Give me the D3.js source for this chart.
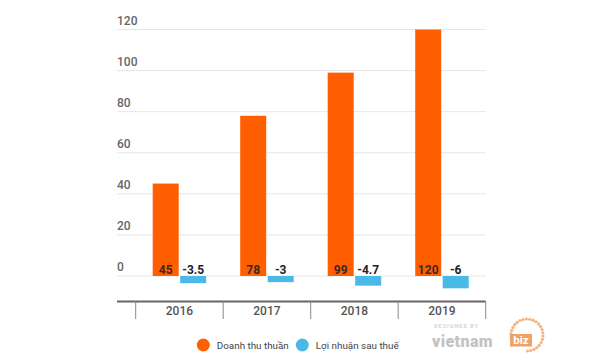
<!DOCTYPE html>
<html>
<head>
<meta charset="utf-8">
<script src="https://cdn.jsdelivr.net/npm/d3@7"></script>
<style>
  body { margin: 0; background: #fff; }
  text { font-family: Roboto, "Noto Sans", sans-serif; }
</style>
</head>
<body>
<svg id="chart" width="600" height="363"></svg>
<script>
"use strict";

const years = ["2016", "2017", "2018", "2019"];
const revenue = [45, 78, 99, 120];
const profit = [-3.5, -3, -4.7, -6];
const yTicks = [0, 20, 40, 60, 80, 100, 120];
const seriesNames = ["Doanh thu thuần", "Lợi nhuận sau thuế"];
const colors = ["#ff5f00", "#4bb9e8"];

const svg = d3.select("#chart");

const x = d3.scaleBand()
    .domain(years)
    .range([135.7, 485.7]);

const y = d3.scaleLinear()
    .domain([0, 120])
    .range([276, 29.5]);

const barW = 26, gap = 1.5;

// gridlines + labels
const grid = svg.append("g");
grid.selectAll("line")
    .data(yTicks)
    .enter()
    .append("line")
    .attr("x1", 117).attr("x2", 485.7)
    .attr("y1", d => y(d)).attr("y2", d => y(d))
    .attr("stroke", "#e6e6e6")
    .attr("stroke-width", 1);
grid.selectAll("text")
    .data(yTicks)
    .enter()
    .append("text")
    .attr("x", 117)
    .attr("y", d => y(d) - 5)
    .attr("font-size", 12)
    .attr("font-weight", 500)
    .attr("fill", "#666")
    .text(d => d);

// orange bars
svg.append("g").selectAll("rect")
    .data(revenue)
    .enter()
    .append("rect")
    .attr("x", (d, i) => x(years[i]) + x.bandwidth() / 2 - barW - gap / 2)
    .attr("y", d => y(d))
    .attr("width", barW)
    .attr("height", d => y(0) - y(d))
    .attr("fill", colors[0]);

// blue bars
svg.append("g").selectAll("rect")
    .data(profit)
    .enter()
    .append("rect")
    .attr("x", (d, i) => x(years[i]) + x.bandwidth() / 2 + gap / 2)
    .attr("y", y(0))
    .attr("width", barW)
    .attr("height", d => y(d) - y(0))
    .attr("fill", colors[1]);

// value labels
svg.append("g").selectAll("text")
    .data(revenue)
    .enter()
    .append("text")
    .attr("x", (d, i) => x(years[i]) + x.bandwidth() / 2 - barW / 2 - gap / 2)
    .attr("y", y(0) - 2)
    .attr("text-anchor", "middle")
    .attr("font-size", 12)
    .attr("font-weight", 700)
    .attr("fill", "#3a2a20")
    .text(d => d);

svg.append("g").selectAll("text")
    .data(profit)
    .enter()
    .append("text")
    .attr("x", (d, i) => x(years[i]) + x.bandwidth() / 2 + barW / 2 + gap / 2)
    .attr("y", y(0) - 2)
    .attr("text-anchor", "middle")
    .attr("font-size", 12)
    .attr("font-weight", 700)
    .attr("fill", "#222")
    .text(d => d);

// bottom category axis
const axisY = 301.5;
svg.append("line")
    .attr("x1", 117).attr("x2", 485.7)
    .attr("y1", axisY).attr("y2", axisY)
    .attr("stroke", "#666")
    .attr("stroke-width", 2);

const ticks = years.map(d => x(d)).concat([x(years[years.length - 1]) + x.bandwidth()]);
svg.append("g").selectAll("line")
    .data(ticks)
    .enter()
    .append("line")
    .attr("x1", d => d).attr("x2", d => d)
    .attr("y1", axisY).attr("y2", 319)
    .attr("stroke", "#888")
    .attr("stroke-width", 1);

svg.append("g").selectAll("text")
    .data(years)
    .enter()
    .append("text")
    .attr("x", d => x(d) + x.bandwidth() / 2)
    .attr("y", 315)
    .attr("text-anchor", "middle")
    .attr("font-size", 12)
    .attr("font-weight", 500)
    .attr("fill", "#555")
    .text(d => d);

// legend
const legend = svg.append("g");
const legendX = [203.3, 302.3];
const legendW = [72, 83]; // text width seen in the picture
seriesNames.forEach((name, i) => {
    legend.append("circle")
        .attr("cx", legendX[i]).attr("cy", 345)
        .attr("r", 6.5)
        .attr("fill", colors[i]);
    const t = legend.append("text")
        .attr("x", legendX[i] + 13.5)
        .attr("y", 349)
        .attr("font-size", 12)
        .attr("fill", "#444")
        .text(name);
    const w = t.node().getComputedTextLength();
    t.attr("font-size", 12 * legendW[i] / w);
});

// watermark
const wm = svg.append("g").attr("opacity", 0.8);
const ring = d3.range(0, 300, 12);
wm.selectAll("circle")
    .data(ring)
    .enter()
    .append("circle")
    .attr("cx", a => 527 + 16 * Math.cos((a - 200) * Math.PI / 180))
    .attr("cy", a => 335 + 16 * Math.sin((a - 200) * Math.PI / 180))
    .attr("r", 1.6)
    .attr("fill", "#f2a060");
wm.append("text")
    .attr("x", 434).attr("y", 328)
    .attr("font-size", 5.5)
    .attr("font-weight", 700)
    .attr("letter-spacing", 1)
    .attr("fill", "#ccc")
    .text("DESIGNED BY");
wm.append("text")
    .attr("x", 432).attr("y", 346.5)
    .attr("font-size", 16)
    .attr("font-weight", 900)
    .attr("letter-spacing", 0.4)
    .attr("fill", "#b5b5b5")
    .text("vietnam");
wm.append("rect")
    .attr("x", 510).attr("y", 334)
    .attr("width", 22).attr("height", 12.5)
    .attr("fill", "#f08a40");
wm.append("text")
    .attr("x", 521).attr("y", 344)
    .attr("text-anchor", "middle")
    .attr("font-size", 11.5)
    .attr("font-weight", 700)
    .attr("fill", "#fff")
    .text("biz");
</script>
</body>
</html>
